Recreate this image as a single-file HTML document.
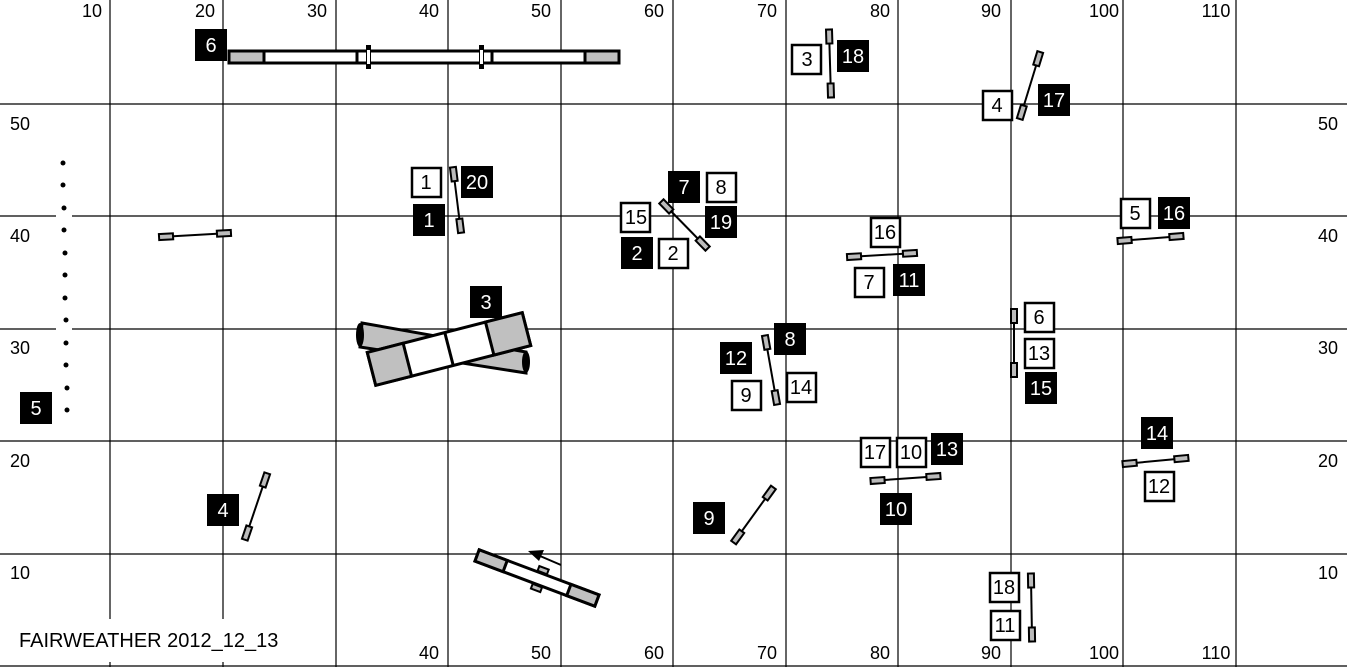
<!DOCTYPE html>
<html><head><meta charset="utf-8"><style>
html,body{margin:0;padding:0;background:#fff}
svg{display:block}
text{font-family:"Liberation Sans",Arial,sans-serif}
</style></head><body>
<svg width="1347" height="667" viewBox="0 0 1347 667" xmlns="http://www.w3.org/2000/svg">
<defs>
<g id="e"><rect x="-7" y="-3" width="14" height="6" fill="#bbb" stroke="#000" stroke-width="2"/></g>
</defs>
<rect width="1347" height="667" fill="#fff"/>
<g stroke="#000" stroke-width="1.2">
<line x1="110" y1="0" x2="110" y2="667"/><line x1="223" y1="0" x2="223" y2="667"/>
<line x1="336" y1="0" x2="336" y2="667"/><line x1="448" y1="0" x2="448" y2="667"/>
<line x1="561" y1="0" x2="561" y2="667"/><line x1="673" y1="0" x2="673" y2="667"/>
<line x1="786" y1="0" x2="786" y2="667"/><line x1="898" y1="0" x2="898" y2="667"/>
<line x1="1011" y1="0" x2="1011" y2="667"/><line x1="1123" y1="0" x2="1123" y2="667"/>
<line x1="1236" y1="0" x2="1236" y2="667"/>
<line x1="0" y1="104" x2="1347" y2="104"/><line x1="0" y1="216" x2="1347" y2="216"/>
<line x1="0" y1="329" x2="1347" y2="329"/><line x1="0" y1="441" x2="1347" y2="441"/>
<line x1="0" y1="554" x2="1347" y2="554"/>
</g>
<g font-size="18" fill="#000" text-anchor="middle">
<text x="92" y="17">10</text><text x="205" y="17">20</text><text x="317" y="17">30</text><text x="429" y="17">40</text><text x="541" y="17">50</text><text x="654" y="17">60</text><text x="767" y="17">70</text><text x="880" y="17">80</text><text x="991" y="17">90</text><text x="1104" y="17">100</text><text x="1216" y="17">110</text>
<text x="429" y="659">40</text><text x="541" y="659">50</text><text x="654" y="659">60</text><text x="767" y="659">70</text><text x="880" y="659">80</text><text x="991" y="659">90</text><text x="1104" y="659">100</text><text x="1216" y="659">110</text>
<text x="20" y="130">50</text><text x="20" y="242">40</text><text x="20" y="354">30</text><text x="20" y="467">20</text><text x="20" y="579">10</text>
<text x="1328" y="130">50</text><text x="1328" y="242">40</text><text x="1328" y="354">30</text><text x="1328" y="467">20</text><text x="1328" y="579">10</text>
</g>
<!-- weave -->
<g fill="#000">
<rect x="56" y="155" width="16" height="260" fill="#fff"/>
<circle cx="63" cy="163" r="2.5"/><circle cx="63" cy="185" r="2.5"/><circle cx="64" cy="208" r="2.5"/><circle cx="64" cy="230" r="2.5"/><circle cx="65" cy="253" r="2.5"/><circle cx="65" cy="275" r="2.5"/><circle cx="65" cy="298" r="2.5"/><circle cx="66" cy="320" r="2.5"/><circle cx="66" cy="343" r="2.5"/><circle cx="66" cy="365" r="2.5"/><circle cx="67" cy="388" r="2.5"/><circle cx="67" cy="410" r="2.5"/>
</g>
<!-- dog walk -->
<g stroke="#000" stroke-width="3">
<rect x="229" y="51" width="390" height="12" fill="#fff"/>
<rect x="229" y="51" width="35" height="12" fill="#c0c0c0"/>
<rect x="585" y="51" width="34" height="12" fill="#c0c0c0"/>
<line x1="357" y1="51" x2="357" y2="63"/><line x1="492" y1="51" x2="492" y2="63"/>
</g>
<rect x="366" y="45" width="5" height="24" fill="#000"/><rect x="479" y="45" width="5" height="24" fill="#000"/>
<rect x="367" y="50" width="3" height="14" fill="#fff"/><rect x="480" y="50" width="3" height="14" fill="#fff"/>
<!-- tunnels -->
<polygon points="362,323 526,352 526,373 360,347" fill="#c0c0c0" stroke="#000" stroke-width="3"/>
<ellipse cx="360" cy="335" rx="4" ry="12" fill="#000"/>
<ellipse cx="526" cy="362" rx="4" ry="11" fill="#000"/>
<g transform="translate(449,349) rotate(-14.4)" stroke="#000" stroke-width="3">
<rect x="-80" y="-17" width="160" height="34" fill="#fff"/>
<rect x="-80" y="-17" width="37" height="34" fill="#c0c0c0"/>
<rect x="42" y="-17" width="38" height="34" fill="#c0c0c0"/>
<line x1="0" y1="-17" x2="0" y2="17"/>
</g>
<!-- teeter -->
<g transform="translate(537,578) rotate(20.6)" stroke="#000" stroke-width="3">
<rect x="-64" y="-6" width="128" height="12" fill="#fff"/>
<rect x="-64" y="-6" width="30" height="12" fill="#c0c0c0"/>
<rect x="34" y="-6" width="30" height="12" fill="#c0c0c0"/>
<rect x="-2" y="-12" width="10" height="5" fill="#bbb" stroke-width="2"/>
<rect x="-2" y="7" width="10" height="5" fill="#bbb" stroke-width="2"/>
</g>
<line x1="561" y1="565" x2="540" y2="556" stroke="#000" stroke-width="2"/>
<polygon points="528,551 544,550 539,561" fill="#000"/>
<!-- jumps -->
<g stroke="#000" stroke-width="2">
<g transform="translate(195,235) rotate(-3.3)"><line x1="-35" y1="0" x2="35" y2="0"/><use href="#e" x="-29"/><use href="#e" x="29"/></g>
<g transform="translate(457,200) rotate(82.9)"><line x1="-32" y1="0" x2="32" y2="0"/><use href="#e" x="-26"/><use href="#e" x="26"/></g>
<g transform="translate(684.5,225) rotate(45.6)"><line x1="-32" y1="0" x2="32" y2="0"/><use href="#e" x="-26"/><use href="#e" x="26"/></g>
<g transform="translate(882,255) rotate(-3.4)"><line x1="-34" y1="0" x2="34" y2="0"/><use href="#e" x="-28"/><use href="#e" x="28"/></g>
<g transform="translate(830,63.5) rotate(88.3)"><line x1="-33" y1="0" x2="33" y2="0"/><use href="#e" x="-27"/><use href="#e" x="27"/></g>
<g transform="translate(1030,85.5) rotate(107)"><line x1="-34" y1="0" x2="34" y2="0"/><use href="#e" x="-28"/><use href="#e" x="28"/></g>
<g transform="translate(1150.5,238.5) rotate(-4.4)"><line x1="-32" y1="0" x2="32" y2="0"/><use href="#e" x="-26"/><use href="#e" x="26"/></g>
<g transform="translate(1014,343) rotate(90)"><line x1="-33" y1="0" x2="33" y2="0"/><use href="#e" x="-27"/><use href="#e" x="27"/></g>
<g transform="translate(771,370) rotate(80)"><line x1="-34" y1="0" x2="34" y2="0"/><use href="#e" x="-28"/><use href="#e" x="28"/></g>
<g transform="translate(1155.5,461) rotate(-5.4)"><line x1="-32" y1="0" x2="32" y2="0"/><use href="#e" x="-26"/><use href="#e" x="26"/></g>
<g transform="translate(905.5,478.5) rotate(-4.1)"><line x1="-34" y1="0" x2="34" y2="0"/><use href="#e" x="-28"/><use href="#e" x="28"/></g>
<g transform="translate(256,506.5) rotate(108.7)"><line x1="-34" y1="0" x2="34" y2="0"/><use href="#e" x="-28"/><use href="#e" x="28"/></g>
<g transform="translate(753.5,515) rotate(125.8)"><line x1="-33" y1="0" x2="33" y2="0"/><use href="#e" x="-27"/><use href="#e" x="27"/></g>
<g transform="translate(1031.5,607.5) rotate(89)"><line x1="-33" y1="0" x2="33" y2="0"/><use href="#e" x="-27"/><use href="#e" x="27"/></g>
</g>
<!-- labels -->
<g font-size="20" text-anchor="middle">
<g fill="#000">
<rect x="195" y="29" width="32" height="32"/><rect x="837" y="40" width="32" height="32"/><rect x="1038" y="84" width="32" height="32"/>
<rect x="461" y="166" width="32" height="32"/><rect x="413" y="204" width="32" height="32"/><rect x="668" y="171" width="32" height="32"/>
<rect x="705" y="206" width="32" height="32"/><rect x="621" y="237" width="32" height="32"/><rect x="1158" y="197" width="32" height="32"/>
<rect x="893" y="264" width="32" height="32"/><rect x="470" y="286" width="32" height="32"/><rect x="774" y="323" width="32" height="32"/>
<rect x="720" y="342" width="32" height="32"/><rect x="1025" y="372" width="32" height="32"/><rect x="20" y="392" width="32" height="32"/>
<rect x="931" y="433" width="32" height="32"/><rect x="1141" y="417" width="32" height="32"/><rect x="207" y="494" width="32" height="32"/>
<rect x="880" y="493" width="32" height="32"/><rect x="693" y="502" width="32" height="32"/>
</g>
<g fill="#fff" stroke="#000" stroke-width="2.5">
<rect x="792" y="45" width="29" height="29"/><rect x="983" y="91" width="29" height="29"/><rect x="412" y="168" width="29" height="29"/>
<rect x="707" y="173" width="29" height="29"/><rect x="621" y="203" width="29" height="29"/><rect x="659" y="239" width="29" height="29"/>
<rect x="1121" y="199" width="29" height="29"/><rect x="871" y="218" width="29" height="29"/><rect x="855" y="268" width="29" height="29"/>
<rect x="732" y="381" width="29" height="29"/><rect x="787" y="373" width="29" height="29"/><rect x="1025" y="303" width="29" height="29"/>
<rect x="1025" y="339" width="29" height="29"/><rect x="861" y="438" width="29" height="29"/><rect x="897" y="438" width="29" height="29"/>
<rect x="1145" y="472" width="29" height="29"/><rect x="990" y="573" width="29" height="29"/><rect x="991" y="611" width="29" height="29"/>
</g>
<g fill="#fff">
<text x="211" y="52">6</text><text x="853" y="63">18</text><text x="1054" y="107">17</text><text x="477" y="189">20</text>
<text x="429" y="227">1</text><text x="684" y="194">7</text><text x="721" y="229">19</text><text x="637" y="260">2</text>
<text x="1174" y="220">16</text><text x="909" y="287">11</text><text x="486" y="309">3</text><text x="790" y="346">8</text>
<text x="736" y="365">12</text><text x="1041" y="395">15</text><text x="36" y="415">5</text><text x="947" y="456">13</text>
<text x="1157" y="440">14</text><text x="223" y="517">4</text><text x="896" y="516">10</text><text x="709" y="525">9</text>
</g>
<g fill="#000">
<text x="807" y="66">3</text><text x="997" y="112">4</text><text x="426" y="189">1</text><text x="721" y="194">8</text>
<text x="636" y="224">15</text><text x="673" y="260">2</text><text x="1135" y="220">5</text><text x="885" y="239">16</text>
<text x="869" y="289">7</text><text x="746" y="402">9</text><text x="801" y="394">14</text><text x="1039" y="324">6</text>
<text x="1039" y="360">13</text><text x="875" y="459">17</text><text x="911" y="459">10</text><text x="1159" y="493">12</text>
<text x="1004" y="594">18</text><text x="1005" y="632">11</text>
</g>
</g>
<rect x="0" y="619" width="328" height="43" fill="#fff"/>
<line x1="0" y1="666" x2="1347" y2="666" stroke="#000" stroke-width="1.2"/>
<text x="19" y="647" font-size="20" fill="#000">FAIRWEATHER 2012_12_13</text>
</svg>
</body></html>
